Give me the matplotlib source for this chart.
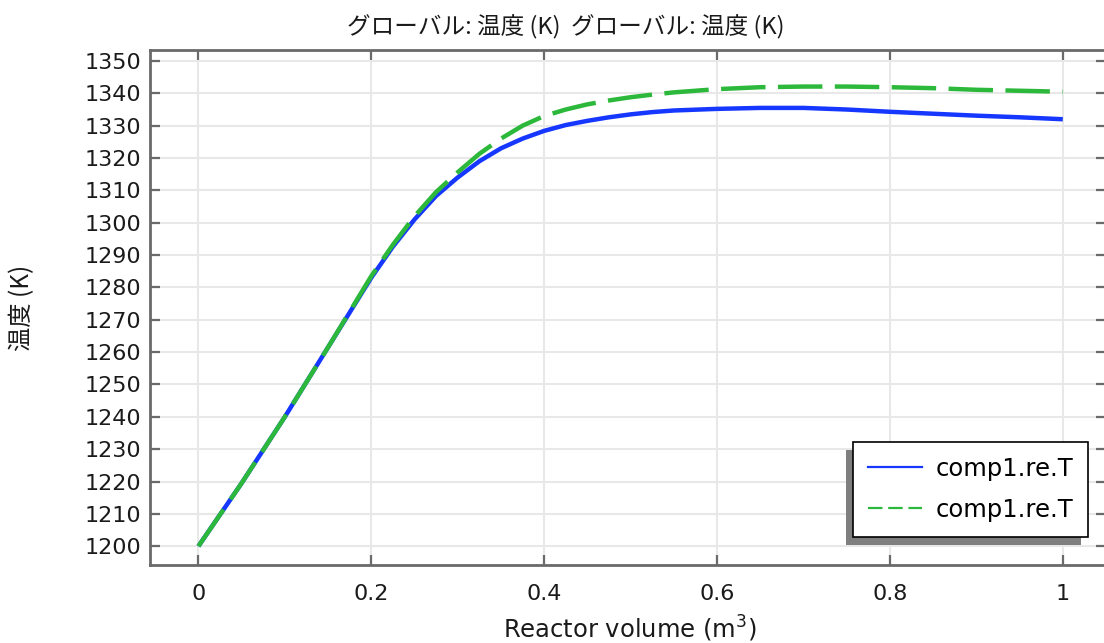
import matplotlib
matplotlib.use('Agg')
import matplotlib.pyplot as plt
from matplotlib.lines import Line2D
from matplotlib.patches import Rectangle
from matplotlib.transforms import IdentityTransform

# reactor volume (m^3)
vol = [0, 0.05, 0.1, 0.15, 0.2, 0.225, 0.25, 0.275, 0.3, 0.325, 0.35, 0.375, 0.4, 0.425,
       0.45, 0.475, 0.5, 0.525, 0.55, 0.6, 0.65, 0.7, 0.75, 0.8, 0.85, 0.9, 0.95, 1.0]
# temperature (K), solid blue
temp_a = [1200, 1219.5, 1240, 1261.5, 1283, 1292.6, 1301.0, 1308.3, 1314.0, 1319.0, 1323.0,
          1326.0, 1328.4, 1330.2, 1331.5, 1332.6, 1333.5, 1334.2, 1334.7, 1335.2, 1335.5,
          1335.5, 1335.0, 1334.3, 1333.7, 1333.1, 1332.6, 1332.0]
# temperature (K), dashed green
temp_b = [1200, 1219.5, 1240, 1261.5, 1283.5, 1293.2, 1302.0, 1309.5, 1315.6, 1321.3, 1326.0,
          1330.0, 1333.0, 1335.0, 1336.6, 1337.8, 1338.8, 1339.6, 1340.3, 1341.3, 1341.9,
          1342.1, 1342.1, 1341.9, 1341.6, 1341.1, 1340.8, 1340.5]
xticks = [0, 0.2, 0.4, 0.6, 0.8, 1]
xticklabels = ['0', '0.2', '0.4', '0.6', '0.8', '1']
yticks = list(range(1200, 1351, 10))
series_label = 'comp1.re.T'

cjk = ['Noto Sans CJK JP', 'DejaVu Sans']
blue = '#1537ff'
green = '#2cb83a'
spine_col = '#6a6a6a'
txt = '#1a1a1a'

fig = plt.figure(figsize=(11.04, 6.43), dpi=100)
ax = fig.add_axes([150 / 1104, 78 / 643, 956 / 1104, 515 / 643])

ax.plot(vol, temp_a, color=blue, lw=3.2, solid_capstyle='butt', zorder=3)
ax.plot(vol, temp_b, color=green, lw=3.2, linestyle=(0, (10.0, 2.8)), zorder=3.1)

ax.set_xlim(-0.056, 1.05)
ax.set_ylim(1194.2, 1353.4)
ax.set_xticks(xticks)
ax.set_xticklabels(xticklabels)
ax.set_yticks(yticks)
ax.grid(True, color='#e8e8e8', lw=1.5)
ax.set_axisbelow(True)

for s in ax.spines.values():
    s.set_color(spine_col)
    s.set_linewidth(2.0)
ax.tick_params(direction='in', top=True, right=True, length=7, width=1.6,
               color=spine_col, labelsize=16, labelcolor=txt)
ax.tick_params(axis='x', pad=14)
ax.tick_params(axis='y', pad=6)

# title sits left of the axes centre in the reference
fig.text(566 / 1104, 1 - 27 / 643, 'グローバル: 温度 (K)  グローバル: 温度 (K)', family=cjk,
         fontsize=17, color=txt, ha='center', va='center')
fig.text(22 / 1104, 1 - 308 / 643, '温度 (K)', family=cjk, fontsize=17.5, color=txt,
         rotation=90, ha='center', va='center')
fig.text(630 / 1104, 1 - 629 / 643, 'Reactor volume (m$^3$)', fontsize=17.5, color=txt,
         ha='center', va='center')

handles = [Line2D([], [], color=blue, lw=1.6),
           Line2D([], [], color=green, lw=1.6, linestyle=(0, (6.5, 2.6)))]
leg = ax.legend(handles, [series_label, series_label], loc='lower right',
                bbox_to_anchor=(1088 / 1104, 106 / 643), bbox_transform=fig.transFigure,
                borderaxespad=0, fontsize=17.5, frameon=True, fancybox=False,
                edgecolor='black', framealpha=1, borderpad=0.62, labelspacing=0.7,
                handlelength=2.2, handletextpad=0.55)
leg.get_frame().set_linewidth(1.2)
leg.set_zorder(6)

# hard drop shadow behind the legend
fig.canvas.draw()
bb = leg.get_window_extent(fig.canvas.get_renderer())
shadow = Rectangle((bb.x0 - 7, bb.y0 - 8), bb.width, bb.height, transform=IdentityTransform(),
                   facecolor='#7f7f7f', edgecolor='none', zorder=5.5, clip_on=False)
ax.add_artist(shadow)

fig.savefig('out.png', dpi=100)
